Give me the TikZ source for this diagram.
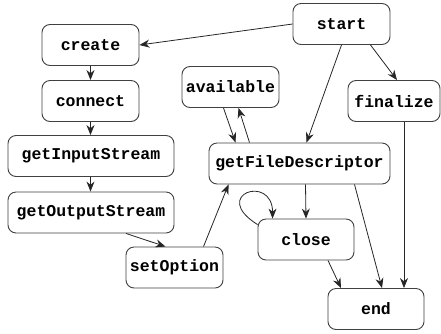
\documentclass[tikz,border=0pt]{standalone}
\usepackage{fontspec}
\setmainfont{Liberation Mono}
\usetikzlibrary{arrows.meta}
\begin{document}
\begin{tikzpicture}[x=1pt,y=-1pt,
  st/.style={draw=black!75,line width=0.9pt,rounded corners=8pt,fill=white,inner sep=0pt,
    minimum height=41pt,font=\fontsize{16.5}{18}\selectfont\bfseries},
  arr/.style={-{Stealth[length=10pt,width=8pt]},line width=0.8pt,black!85}]
\useasboundingbox (0,0) rectangle (441,333);
\node[st,minimum width=97pt] (create) at (90.5,45) {create};
\node[st,minimum width=97pt] (connect) at (90.5,101) {connect};
\node[st,minimum width=166pt] (gis) at (91,156) {getInputStream};
\node[st,minimum width=166pt] (gos) at (91,212.5) {getOutputStream};
\node[st,minimum width=97pt] (setopt) at (174.5,267.5) {setOption};
\node[st,minimum width=97pt] (avail) at (230.5,87) {available};
\node[st,minimum width=97pt] (start) at (341.5,24) {start};
\node[st,minimum width=92pt] (final) at (394,101) {finalize};
\node[st,minimum width=181pt] (gfd) at (299.5,163.5) {getFileDescriptor};
\node[st,minimum width=96pt] (close) at (306,239.5) {close};
\node[st,minimum width=96pt] (end) at (376,309) {end};

\draw[arr] (start.west) -- (create.east);
\draw[arr] (create) -- (connect);
\draw[arr] (connect) -- (gis.north -| connect);
\draw[arr] (gis.south -| connect) -- (gos.north -| connect);
\draw[arr] ([xshift=35pt]gos.south) -- ([xshift=-9pt]setopt.north);
\draw[arr] ([xshift=29pt]setopt.north) -- ([xshift=-71pt]gfd.south);
\draw[arr] ([xshift=-7pt]avail.south) -- ([xshift=-64pt]gfd.north);
\draw[arr] ([xshift=-50pt]gfd.north) -- ([xshift=8pt]avail.south);
\draw[arr] (start.south) -- ([xshift=7pt]gfd.north);
\draw[arr] ([xshift=29pt]start.south) -- ([xshift=3pt]final.north);
\draw[arr] ([xshift=10pt]final.south) -- ([xshift=28pt]end.north);
\draw[arr] ([xshift=6pt]gfd.south) -- (close.north);
\draw[arr] ([xshift=55pt]gfd.south) -- ([xshift=6pt]end.north);
\draw[arr] ([xshift=22pt]close.south) -- ([xshift=-35pt]end.north);
\draw[arr] ([yshift=-6pt]close.north west) .. controls +(-48,-30) and +(0,-45) .. ([xshift=15pt]close.north west);
\end{tikzpicture}
\end{document}
